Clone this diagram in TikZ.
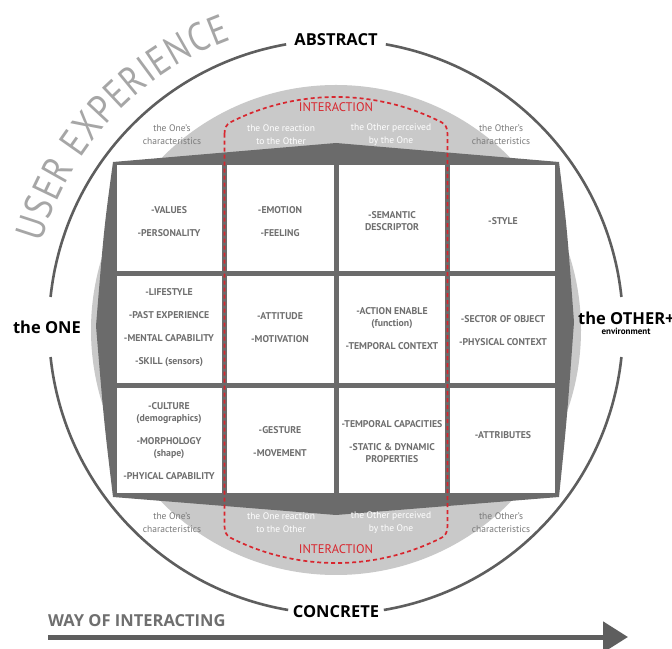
\documentclass[tikz,border=0pt]{standalone}
\usepackage{fontspec}
\setmainfont{PT Sans}
\newfontfamily\uxfont[FakeStretch=0.85]{PT Sans}
\newfontfamily\polefont{Open Sans}
\usetikzlibrary{decorations.text,arrows.meta}

\definecolor{framegray}{HTML}{6B6B6B}
\definecolor{ringgray}{HTML}{5E5E5E}
\definecolor{softgray}{HTML}{C9C9C9}
\definecolor{textgray}{HTML}{6F6F6F}
\definecolor{notegray}{HTML}{7A7A7A}
\definecolor{uxgray}{HTML}{A6A6A6}
\definecolor{interred}{HTML}{D8262E}

\begin{document}
\begin{tikzpicture}[x=1pt,y=1pt,
  ring/.style={draw=ringgray,line width=2.6pt},
  cellbox/.style={fill=white},
  celltext/.style={font=\bfseries\fontsize{9.8}{12}\selectfont,text=textgray,align=center},
  sidenote/.style={font=\fontsize{9.5}{12.5}\selectfont,align=center},
  pole/.style={font=\polefont\bfseries\fontsize{16.5}{16.5}\selectfont,text=black,inner sep=0pt},
  interaction/.style={draw=interred,line width=1.7pt,dash pattern=on 4pt off 3pt},
  redlabel/.style={font=\fontsize{12.5}{12.5}\selectfont,text=interred,inner sep=0pt}]

\useasboundingbox (0,0) rectangle (672,648);
\fill[white] (0,0) rectangle (672,648);

% centres of the outer ring and of the inner disc
\coordinate (oc) at (336,321);
\coordinate (ic) at (336,318);

% soft grey disc behind the matrix
\fill[softgray] (ic) circle[radius=245];

% dark frame around the matrix
\fill[framegray] (113,486) -- (336,505) -- (559,486)
  .. controls (567,420) .. (574,326) .. controls (567,230) .. (559,151)
  -- (336,133) -- (113,151)
  .. controls (104,226) .. (96,322) .. controls (104,420) .. (113,486) -- cycle;

% white cells of the 4 x 3 matrix
\foreach \xa/\xb in {117/222, 227/333.5, 338.5/445, 450/555}{
  \foreach \ya/\yb in {376.5/483, 265/371.5, 155/260}{
    \fill[cellbox] (\xa,\ya) rectangle (\xb,\yb);
  }
}

% interaction zone: two columns closed by arcs with softened corners
\draw[interaction] (224.5,514) .. controls (224.5,520) and (226.5,523.5) .. (230.2,525.6)
  arc[start angle=117,end angle=63,radius=233]
  .. controls (445.5,523.5) and (447.5,520) .. (447.5,514)
  -- (447.5,122) .. controls (447.5,116) and (445.5,112.5) .. (441.8,110.4)
  arc[start angle=297,end angle=243,radius=233]
  .. controls (226.5,112.5) and (224.5,116) .. (224.5,122) -- cycle;
\node[redlabel] (intertop) at (336,541) {INTERACTION};
\node[redlabel] (interbot) at (336,99) {INTERACTION};

% outer ring, broken for the four pole labels
\draw[ring] ([shift={(6:287)}]oc) arc[start angle=6,end angle=80,radius=287];
\draw[ring] ([shift={(100:287)}]oc) arc[start angle=100,end angle=174,radius=287];
\draw[ring] ([shift={(186:287)}]oc) arc[start angle=186,end angle=260.4,radius=287];
\draw[ring] ([shift={(279.6:287)}]oc) arc[start angle=279.6,end angle=354,radius=287];

\node[pole] (abstract) at (336,608) {ABSTRACT};
\node[pole] (concrete) at (336,36) {CONCRETE};
\node[pole] (one) at (47,321) {the ONE};
\node[pole,anchor=west] (other) at (578,330) {the OTHER+};
\node[font=\bfseries\fontsize{9}{9}\selectfont,inner sep=0pt] (env) at (626,317) {environment};

% arc title
\path[decorate,decoration={text along path,text align=fit to path,text color=uxgray,
  text={|\uxfont\fontsize{40}{40}\selectfont|USER EXPERIENCE}}]
  ([shift={(164:306)}]oc) arc[start angle=164,end angle=110,radius=306];

% notes above and below the matrix
\node[sidenote,text=notegray] (ntl) at (172,513.5) {the One's\\characteristics};
\node[sidenote,text=white] (ntm1) at (281,513.5) {the One reaction\\to the Other};
\node[sidenote,text=white] (ntm2) at (391,513.5) {the Other perceived\\by the One};
\node[sidenote,text=notegray] (ntr) at (501,513.5) {the Other's\\characteristics};
\node[sidenote,text=notegray] (nbl) at (172,125.5) {the One's\\characteristics};
\node[sidenote,text=white] (nbm1) at (281,125.5) {the One reaction\\to the Other};
\node[sidenote,text=white] (nbm2) at (391,125.5) {the Other perceived\\by the One};
\node[sidenote,text=notegray] (nbr) at (501,125.5) {the Other's\\characteristics};

% matrix contents
\node[celltext] (c11) at (169,426.5) {-VALUES\\[11pt]-PERSONALITY};
\node[celltext] (c12) at (280,426.5) {-EMOTION\\[11pt]-FEELING};
\node[celltext] (c13) at (392,427) {-SEMANTIC\\DESCRIPTOR};
\node[celltext] (c14) at (503,427) {-STYLE};
\node[celltext] (c21) at (169,320) {-LIFESTYLE\\[11pt]-PAST EXPERIENCE\\[11pt]-MENTAL CAPABILITY\\[11pt]-SKILL (sensors)};
\node[celltext] (c22) at (280,320) {-ATTITUDE\\[11pt]-MOTIVATION};
\node[celltext] (c23) at (392,319.5) {-ACTION ENABLE\\(function)\\[11pt]-TEMPORAL CONTEXT};
\node[celltext] (c24) at (503,317.5) {-SECTOR OF OBJECT\\[11pt]-PHYSICAL CONTEXT};
\node[celltext] (c31) at (169,207) {-CULTURE\\(demographics)\\[11pt]-MORPHOLOGY\\(shape)\\[11pt]-PHYICAL CAPABILITY};
\node[celltext] (c32) at (280,206.5) {-GESTURE\\[11pt]-MOVEMENT};
\node[celltext] (c33) at (392,206.5) {-TEMPORAL CAPACITIES\\[11pt]-STATIC \& DYNAMIC\\PROPERTIES};
\node[celltext] (c34) at (503,213) {-ATTRIBUTES};

% axis at the bottom
\node[font=\polefont\bfseries\fontsize{16.5}{16.5}\selectfont,text=textgray,anchor=base west,inner sep=0pt] (way) at (48,21) {WAY OF INTERACTING};
\coordinate (axisL) at (48,11);
\coordinate (axisR) at (628,11);
\draw[ringgray,line width=5pt,-{Triangle[length=25pt,width=30pt]}] (axisL) -- (axisR);

\end{tikzpicture}
\end{document}
